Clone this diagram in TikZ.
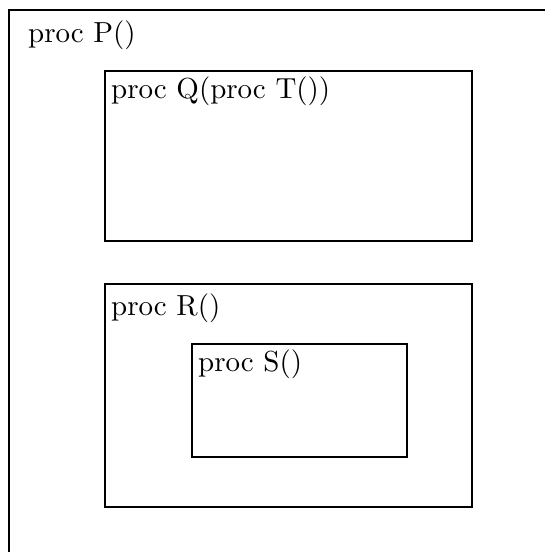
\documentclass[tikz,border=0pt]{standalone}
\font\bigrm=cmr10 at 29pt
\begin{document}
\begin{tikzpicture}[x=1pt,y=-1pt,
  box/.style={draw=black,line width=2pt,rectangle,inner sep=0pt,anchor=north west},
  lbl/.style={anchor=base west,inner sep=0pt,font=\bigrm}]
\useasboundingbox (0,0) rectangle (545,552);
\coordinate (obl) at (9,560);
\coordinate (otl) at (9,10);
\coordinate (otr) at (560,10);
\draw[line width=2pt] (obl) -- (otl) -- (otr);
\node[lbl] (lP) at (28,42) {proc P()};
\node[box,minimum width=367pt,minimum height=170pt] (Q) at (104,70) {};
\node[lbl] (lQ) at (111,98) {proc Q(proc T())};
\node[box,minimum width=367pt,minimum height=223pt] (R) at (104,283) {};
\node[lbl] (lR) at (111,315) {proc R()};
\node[box,minimum width=215pt,minimum height=113pt] (S) at (191,343) {};
\node[lbl] (lS) at (198,371) {proc S()};
\end{tikzpicture}
\end{document}
